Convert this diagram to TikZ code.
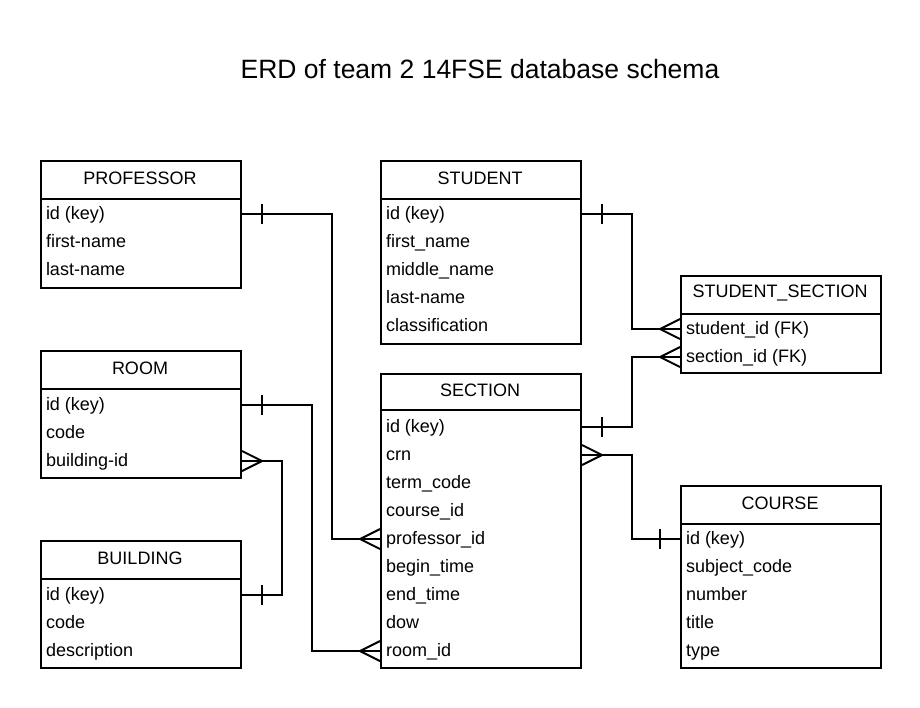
\documentclass[tikz,border=0pt]{standalone}
\usepackage{fontspec}
\setmainfont{Liberation Sans}
\usetikzlibrary{positioning}

\tikzset{
  tbl/.style={draw, anchor=north west, minimum width=200pt, inner sep=0pt},
  head/.style={font=\fontsize{18}{18}\selectfont, inner sep=0pt},
  row/.style={anchor=west, font=\fontsize{18}{18}\selectfont, inner sep=0pt, text height=12pt, text depth=2pt},
  one/.pic={\draw (-20,-10) -- (-20,10);},
  many/.pic={\draw (0,-10) -- (-20,0) -- (0,10);},
}

\begin{document}
\begin{tikzpicture}[x=1pt, y=-1pt, line width=2pt]
  \useasboundingbox (0,0) rectangle (920,707);
  \node[font=\fontsize{26.5}{26.5}\selectfont] (title) at (480,69) {ERD of team 2 14FSE database schema};

  % tables
  \node[tbl, minimum height=127pt] (prof) at (40,160) {};
  \draw (prof.north west) ++(0,39) -- ++(200,0);
  \node[head] (prof-t) at (140,178) {PROFESSOR};
  \node[row] (prof-id) at (45,214) {id (key)};
  \node[row] (prof-first) at (45,242) {first-name};
  \node[row] (prof-last) at (45,270) {last-name};

  \node[tbl, minimum height=183pt] (stu) at (380,160) {};
  \draw (stu.north west) ++(0,39) -- ++(200,0);
  \node[head] (stu-t) at (480,178) {STUDENT};
  \node[row] (stu-id) at (385,214) {id (key)};
  \node[row] (stu-first) at (385,242) {first\_name};
  \node[row] (stu-mid) at (385,270) {middle\_name};
  \node[row] (stu-last) at (385,298) {last-name};
  \node[row] (stu-class) at (385,326) {classification};

  \node[tbl, minimum height=97pt] (ss) at (680,275) {};
  \draw (ss.north west) ++(0,39) -- ++(200,0);
  \node[head] (ss-t) at (780,293) {STUDENT\_SECTION};
  \node[row] (ss-stu) at (685,329) {student\_id (FK)};
  \node[row] (ss-sec) at (685,357) {section\_id (FK)};

  \node[tbl, minimum height=127pt] (room) at (40,350) {};
  \draw (room.north west) ++(0,39) -- ++(200,0);
  \node[head] (room-t) at (140,368) {ROOM};
  \node[row] (room-id) at (45,405) {id (key)};
  \node[row] (room-code) at (45,433) {code};
  \node[row] (room-bid) at (45,461) {building-id};

  \node[tbl, minimum height=294pt] (sec) at (380,373) {};
  \draw (sec.north west) ++(0,37) -- ++(200,0);
  \node[head] (sec-t) at (480,390) {SECTION};
  \node[row] (sec-id) at (385,427) {id (key)};
  \node[row] (sec-crn) at (385,455) {crn};
  \node[row] (sec-term) at (385,483) {term\_code};
  \node[row] (sec-course) at (385,511) {course\_id};
  \node[row] (sec-prof) at (385,539) {professor\_id};
  \node[row] (sec-begin) at (385,567) {begin\_time};
  \node[row] (sec-end) at (385,595) {end\_time};
  \node[row] (sec-dow) at (385,623) {dow};
  \node[row] (sec-room) at (385,651) {room\_id};

  \node[tbl, minimum height=127pt] (bld) at (40,540) {};
  \draw (bld.north west) ++(0,39) -- ++(200,0);
  \node[head] (bld-t) at (140,558) {BUILDING};
  \node[row] (bld-id) at (45,595) {id (key)};
  \node[row] (bld-code) at (45,623) {code};
  \node[row] (bld-desc) at (45,651) {description};

  \node[tbl, minimum height=182pt] (crs) at (680,485) {};
  \draw (crs.north west) ++(0,39) -- ++(200,0);
  \node[head] (crs-t) at (780,503) {COURSE};
  \node[row] (crs-id) at (685,539) {id (key)};
  \node[row] (crs-subj) at (685,567) {subject\_code};
  \node[row] (crs-num) at (685,595) {number};
  \node[row] (crs-title) at (685,623) {title};
  \node[row] (crs-type) at (685,651) {type};

  % relations
  \draw (prof-id -| prof.east) -- ++(90,0) |- (sec-prof -| sec.west);
  \pic[rotate=180] at (prof-id -| prof.east) {one};
  \pic at (sec-prof -| sec.west) {many};

  \draw (stu-id -| stu.east) -- ++(50,0) |- (ss-stu -| ss.west);
  \pic[rotate=180] at (stu-id -| stu.east) {one};
  \pic at (ss-stu -| ss.west) {many};

  \draw (sec-id -| sec.east) -- ++(50,0) |- (ss-sec -| ss.west);
  \pic[rotate=180] at (sec-id -| sec.east) {one};
  \pic at (ss-sec -| ss.west) {many};

  \draw (room-id -| room.east) -- ++(70,0) |- (sec-room -| sec.west);
  \pic[rotate=180] at (room-id -| room.east) {one};
  \pic at (sec-room -| sec.west) {many};

  \draw (room-bid -| room.east) -- ++(40,0) |- (bld-id -| bld.east);
  \pic[rotate=180] at (room-bid -| room.east) {many};
  \pic[rotate=180] at (bld-id -| bld.east) {one};

  \draw (sec-crn -| sec.east) -- ++(50,0) |- (crs-id -| crs.west);
  \pic[rotate=180] at (sec-crn -| sec.east) {many};
  \pic at (crs-id -| crs.west) {one};
\end{tikzpicture}
\end{document}
